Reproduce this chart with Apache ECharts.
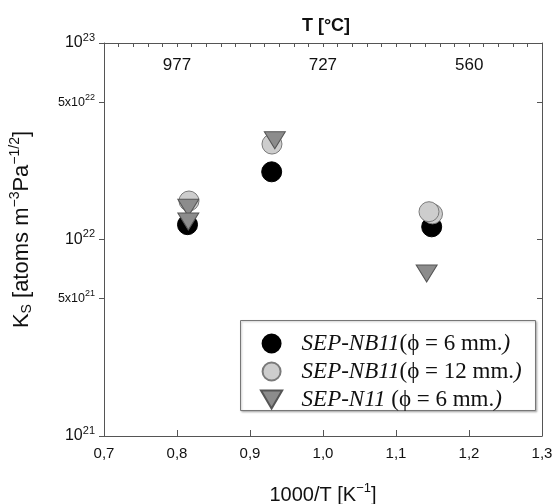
<!DOCTYPE html>
<html><head><meta charset="utf-8">
<script src="https://cdn.jsdelivr.net/npm/echarts@6/dist/echarts.min.js"></script>
<style>html,body{margin:0;padding:0;background:#fff}#c{width:557px;height:504px}</style>
</head><body><div id="c"></div>
<script>
// ---- data ----
const xNB11_6 = [0.8144, 0.9297, 1.1489];
const yNB11_6 = [1.19e22, 2.21e22, 1.16e22];
const xNB11_12 = [0.8164, 0.9301, 1.1500, 1.1452];
const yNB11_12 = [1.57e22, 3.06e22, 1.35e22, 1.385e22];
const xN11_6 = [0.8155, 0.8155, 0.9340, 1.1420];
const yN11_6 = [1.45e22, 1.235e22, 3.2e22, 6.71e21];
const seriesNames = ['SEP-NB11(ϕ = 6 mm.)', 'SEP-NB11(ϕ = 12 mm.)', 'SEP-N11 (ϕ = 6 mm.)'];
const xTicks = [0.7, 0.8, 0.9, 1.0, 1.1, 1.2, 1.3];
const yTickValues = [1e21, 5e21, 1e22, 5e22, 0.999999999e23];
const tempC = [977, 727, 560];

const pairs = (xs, ys) => xs.map((x, i) => [x, ys[i]]);
const topLabelValues = tempC.map(t => 1000 / (t + 273.15));
const TRI = 'path://M0,0 L20,0 L10,17 Z';
const FONT = '"Liberation Sans", Arial, sans-serif';
const SERIF = '"Liberation Serif", "Times New Roman", "DejaVu Serif", serif';

function yLabel(v) {
  const e = Math.floor(Math.log10(v) + 1e-6);
  const m = Math.round(v / Math.pow(10, e));
  if (m === 1) return '{b|10}{s|' + e + '}';
  return '{m|' + m + 'x10}{t|' + e + '}';
}
const yRich = {
  b: {fontSize: 16, fontFamily: FONT, color: '#111'},
  s: {fontSize: 11, fontFamily: FONT, color: '#111', padding: [0, 0, 11, 0]},
  m: {fontSize: 12.5, fontFamily: FONT, color: '#111'},
  t: {fontSize: 9, fontFamily: FONT, color: '#111', padding: [0, 0, 10, 0]}
};
const frame = {show: true, lineStyle: {color: '#555', width: 1}};

const chart = echarts.init(document.getElementById('c'), null, {renderer: 'canvas'});
chart.setOption({
  animation: false,
  backgroundColor: '#fff',
  title: {text: 'T [°C]', left: 321, textAlign: 'center', top: 12,
    textStyle: {fontFamily: FONT, fontWeight: 'bold', fontSize: 18, color: '#111'}},
  grid: {left: 104, right: 15, top: 43, bottom: 68, outerBoundsMode: 'none', containLabel: false},
  xAxis: [{
    type: 'value', min: 0.7, max: 1.3, interval: 0.1, position: 'bottom',
    axisLine: frame, splitLine: {show: false},
    axisTick: {show: true, inside: true, length: 6, lineStyle: {color: '#555'}},
    axisLabel: {fontFamily: FONT, fontSize: 15, color: '#111', margin: 10,
      formatter: v => v.toFixed(1).replace('.', ','), showMinLabel: true, showMaxLabel: true},
    name: '1000/T [K{sup|−1}]', nameLocation: 'middle', nameGap: 46,
    nameTextStyle: {fontFamily: FONT, fontSize: 20, color: '#111',
      rich: {sup: {fontSize: 13, fontFamily: FONT, color: '#111', padding: [0, 0, 13, 0]}}}
  }, {
    type: 'value', min: 0.7, max: 1.3, interval: 0.02, position: 'top',
    axisLine: frame, splitLine: {show: false},
    axisTick: {show: true, inside: true, length: 4, lineStyle: {color: '#555'}},
    axisLabel: {show: true, inside: true, margin: 14, fontFamily: FONT, fontSize: 17, color: '#111',
      customValues: topLabelValues,
      formatter: v => {
        let best = 0;
        topLabelValues.forEach((t, i) => { if (Math.abs(t - v) < Math.abs(topLabelValues[best] - v)) best = i; });
        return String(tempC[best]);
      }}
  }],
  yAxis: [{
    type: 'log', logBase: 10, min: 1e21, max: 1e23, position: 'left',
    axisLine: frame, splitLine: {show: false},
    axisTick: {show: true, inside: false, length: 5, lineStyle: {color: '#555'}, customValues: yTickValues},
    axisLabel: {margin: 9, formatter: yLabel, rich: yRich, customValues: yTickValues,
      showMinLabel: true, showMaxLabel: true},
    name: 'K{sub|S} [atoms m{sup|−3}Pa{sup|−1/2}]', nameLocation: 'middle', nameGap: 68, nameRotate: 90,
    nameTextStyle: {fontFamily: FONT, fontSize: 22, color: '#111', padding: [0, 0, 0, 20],
      rich: {sub: {fontSize: 14, fontFamily: FONT, color: '#111', padding: [11, 0, 0, 0]},
             sup: {fontSize: 14, fontFamily: FONT, color: '#111', padding: [0, 0, 14, 0]}}}
  }, {
    type: 'log', logBase: 10, min: 1e21, max: 1e23, position: 'right',
    axisLine: frame, splitLine: {show: false},
    axisTick: {show: true, inside: true, length: 5, lineStyle: {color: '#555'}, customValues: yTickValues},
    axisLabel: {show: false}
  }],
  legend: {
    orient: 'vertical', left: 260, top: 332, itemWidth: 50, itemHeight: 18, itemGap: 5,
    padding: 0,
    data: seriesNames,
    formatter: n => {
      const m = n.match(/^(SEP-[A-Z0-9]+)(\s?\(.*)\)$/);
      return '{i|' + m[1] + '}{n|' + m[2] + '}{i|)}';
    },
    textStyle: {fontFamily: SERIF, fontSize: 23, color: '#111', lineHeight: 22,
      rich: {i: {fontFamily: SERIF, fontStyle: 'italic', fontSize: 23, color: '#111', lineHeight: 22},
             n: {fontFamily: SERIF, fontSize: 23, color: '#111', lineHeight: 22}}}
  },
  graphic: [{type: 'rect', left: 240, top: 320, shape: {width: 295, height: 90},
    style: {fill: '#fff', stroke: '#777', lineWidth: 1, shadowColor: 'rgba(0,0,0,0.25)', shadowBlur: 2, shadowOffsetX: 1, shadowOffsetY: 1}, z: 1}],
  series: [{
    name: seriesNames[0], type: 'scatter', symbol: 'circle', symbolSize: 20,
    itemStyle: {color: '#000', borderColor: '#000', borderWidth: 1, opacity: 1},
    data: pairs(xNB11_6, yNB11_6), z: 3
  }, {
    name: seriesNames[1], type: 'scatter', symbol: 'circle', symbolSize: 20,
    itemStyle: {color: '#cdcdcd', borderColor: '#7a7a7a', borderWidth: 1, opacity: 1},
    data: pairs(xNB11_12, yNB11_12), z: 4
  }, {
    name: seriesNames[2], type: 'scatter', symbol: TRI, symbolSize: [21, 17],
    itemStyle: {color: '#8c8c8c', borderColor: '#555', borderWidth: 1, opacity: 1},
    data: pairs(xN11_6, yN11_6), z: 5
  }]
});
</script></body></html>
